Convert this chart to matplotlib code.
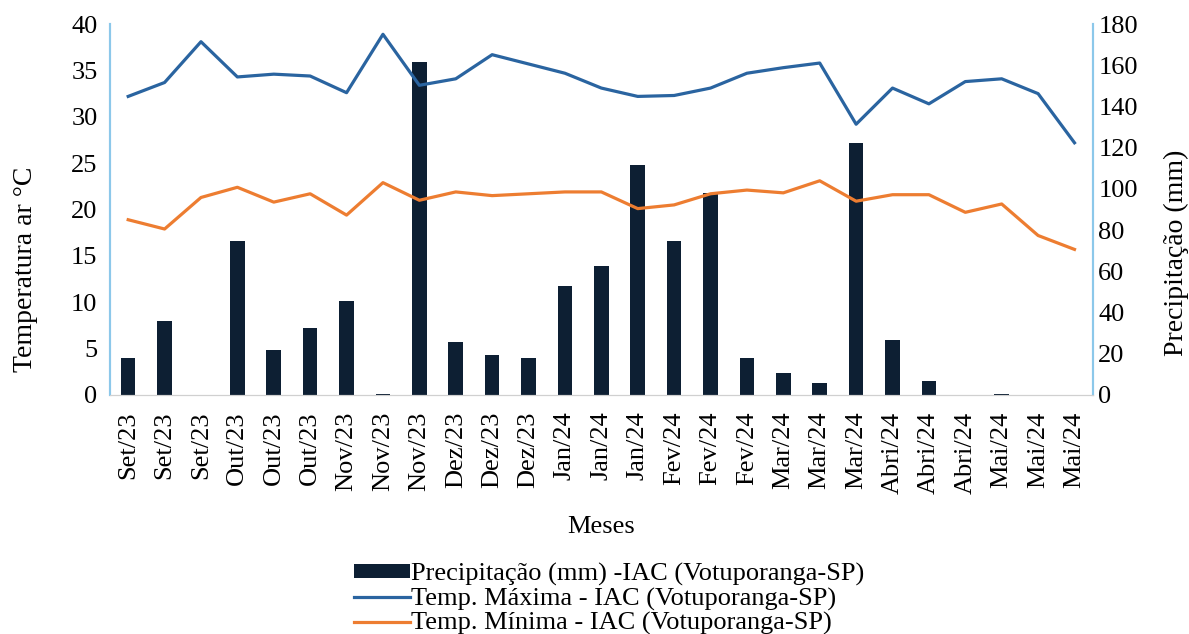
import numpy as np
import matplotlib
matplotlib.use("Agg")
import matplotlib.pyplot as plt
from matplotlib.patches import Patch
from matplotlib.lines import Line2D

plt.rcParams['font.family'] = ['Liberation Serif', 'DejaVu Serif']

# dados
meses = ['Set/23'] * 3 + ['Out/23'] * 3 + ['Nov/23'] * 3 + ['Dez/23'] * 3 + \
        ['Jan/24'] * 3 + ['Fev/24'] * 3 + ['Mar/24'] * 3 + ['Abri/24'] * 3 + ['Mai/24'] * 3

precipitacao = [18.1, 35.9, 0.0, 74.9, 21.7, 32.4, 45.8, 0.3, 161.4,
                25.6, 19.2, 18.0, 52.7, 62.8, 111.4, 74.9, 98.0, 17.8,
                10.5, 5.7, 122.3, 26.5, 6.9, 0.0, 0.3, 0.0, 0.0]

temp_max = [32.2, 33.7, 38.1, 34.3, 34.6, 34.4, 32.6, 38.9, 33.4,
            34.1, 36.7, 35.7, 34.7, 33.1, 32.2, 32.3, 33.1, 34.7,
            35.3, 35.8, 29.2, 33.1, 31.4, 33.8, 34.1, 32.5, 27.2]

temp_min = [18.9, 17.9, 21.3, 22.4, 20.8, 21.7, 19.4, 22.9, 21.0,
            21.9, 21.5, 21.7, 21.9, 21.9, 20.1, 20.5, 21.7, 22.1,
            21.8, 23.1, 20.9, 21.6, 21.6, 19.7, 20.6, 17.2, 15.7]

cor_barra = '#0d1f33'
cor_max = '#2a64a0'
cor_min = '#ed7d31'
cor_eixo = '#8cc8ea'

fig = plt.figure(figsize=(11.89, 6.34), dpi=100)
ax = fig.add_axes([0.0925, 0.377, 0.8265, 0.585])
ax2 = ax.twinx()

x = np.arange(len(meses))

# barras no eixo secundário (precipitação)
ax2.bar(x, precipitacao, width=0.4, color=cor_barra, zorder=1)
ax2.set_ylim(0, 180)
ax2.set_yticks(np.arange(0, 181, 20))

# linhas de temperatura no eixo principal
ax.set_zorder(ax2.get_zorder() + 1)
ax.patch.set_visible(False)
ax.plot(x, temp_max, color=cor_max, lw=2.3)
ax.plot(x, temp_min, color=cor_min, lw=2.3)
ax.set_ylim(0, 40)
ax.set_yticks(np.arange(0, 41, 5))
ax.set_xlim(-0.5, len(meses) - 0.5)
ax.set_xticks(x)
ax.set_xticklabels(meses, rotation=90)

for a in (ax, ax2):
    a.tick_params(length=0, labelsize=19)
    a.spines['top'].set_visible(False)
    a.spines['left'].set_color(cor_eixo)
    a.spines['right'].set_color(cor_eixo)
    a.spines['bottom'].set_color('#d0d0d0')
    a.spines['left'].set_linewidth(1.5)
    a.spines['right'].set_linewidth(1.5)
ax.tick_params(axis='x', labelsize=19, pad=12)
ax.tick_params(axis='y', pad=9)
ax2.tick_params(axis='y', pad=4)

ax.set_ylabel('Temperatura ar °C', fontsize=20)
ax.yaxis.set_label_coords(-0.073, 0.34)
ax2.set_ylabel('Precipitação (mm)', fontsize=20)
ax2.yaxis.set_label_coords(1.072, 0.383)
ax.set_xlabel('Meses', fontsize=19, labelpad=16)

handles = [Patch(facecolor=cor_barra),
           Line2D([], [], color=cor_max, lw=2.3),
           Line2D([], [], color=cor_min, lw=2.3)]
labels = ['Precipitação (mm) -IAC (Votuporanga-SP)',
          'Temp. Máxima - IAC (Votuporanga-SP)',
          'Temp. Mínima - IAC (Votuporanga-SP)']
leg = fig.legend(handles, labels, loc='upper left', bbox_to_anchor=(0.298, 0.112),
                 frameon=False, fontsize=19, handlelength=2.1, handleheight=0.45,
                 handletextpad=0.05, labelspacing=0.06, borderpad=0, borderaxespad=0)

fig.savefig('out.png', dpi=100)
